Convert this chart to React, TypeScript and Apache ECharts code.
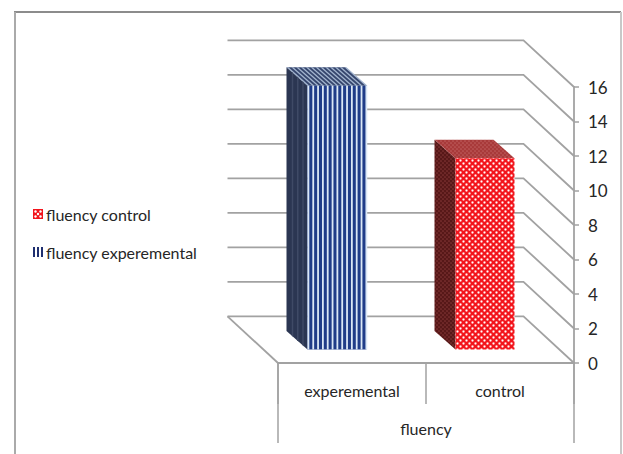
import React, { useEffect, useRef } from "react";
import * as echarts from "echarts";

const categories = ["experemental", "control"];
const groupLabel = ["fluency"];
const seriesExperemental = [[0, 15.3]];
const seriesControl = [[1, 11.1]];
const wallValues = [0, 2, 4, 6, 8, 10, 12, 14, 16];
const FONT = "Lato";
const LINE = "#a2a2a2";
const DX = 21, DY = 18.5;      // bar depth
const WX = 50.5, WY = 46.7;    // wall depth
const BX = 15, BY = 13.4;      // bar offset from the front of the floor
const BW = 59;

function tile(w: number, h: number, draw: (c: CanvasRenderingContext2D) => void) {
  const cv = document.createElement("canvas");
  cv.width = w; cv.height = h;
  const c = cv.getContext("2d")!;
  draw(c);
  return cv.toDataURL();
}
function dots(bg: string, halo: string, dot: string, s: number, r: number) {
  return tile(s, s, (c) => {
    c.fillStyle = bg; c.fillRect(0, 0, s, s);
    for (const [x, y] of [[s / 4, s / 4], [(3 * s) / 4, (3 * s) / 4]]) {
      c.fillStyle = halo; c.beginPath(); c.arc(x, y, r * 1.5, 0, 7); c.fill();
      c.fillStyle = dot; c.beginPath(); c.arc(x, y, r, 0, 7); c.fill();
    }
  });
}
const fillOf = (image: string, s: number) => ({ image, repeat: "repeat", imageWidth: s, imageHeight: s, x: 0, y: 0 });

export default function App() {
  const ref = useRef<HTMLDivElement>(null);
  useEffect(() => {
    const chart = echarts.init(ref.current!, null, { renderer: "svg" });
    const redFront = fillOf(dots("#f2141c", "#fb5a5f", "#ffffff", 6, 0.95), 6);
    const redSide = fillOf(dots("#571818", "#6c2626", "#8a4040", 4, 0.6), 4);
    const redTop = fillOf(dots("#a83a3a", "#b34848", "#c46a6a", 4, 0.6), 4);
    const iconRed = tile(10, 10, (c) => {
      c.fillStyle = "#f2141c"; c.fillRect(0, 0, 10, 10);
      c.fillStyle = "#fff";
      for (const [x, y] of [[2.5, 2.5], [7.5, 2.5], [5, 5], [2.5, 7.5], [7.5, 7.5]]) {
        c.beginPath(); c.arc(x, y, 1.2, 0, 7); c.fill();
      }
    });
    const iconBlue = tile(10, 10, (c) => {
      c.fillStyle = "#1f2f70";
      for (const x of [0, 4, 8]) c.fillRect(x, 0, 2, 10);
    });

    const wallItem = (params: any, api: any) => {
      const cs = params.coordSys;
      const v = api.value(1);
      const y = api.coord([0, v])[1];
      const x0 = cs.x, x1 = cs.x + cs.width;
      const style = { stroke: LINE, lineWidth: 1.8, fill: "none" };
      const children: any[] = [{
        type: "polyline",
        shape: { points: [[x0 - WX, y - WY], [x1 - WX, y - WY], [x1, y]] },
        style,
      }];
      if (v === 0) {
        children.push({ type: "line", shape: { x1: x0 - WX, y1: y - WY, x2: x0, y2: y }, style });
      }
      return { type: "group", children };
    };

    const box = (api: any) => {
      const [cx, top] = api.coord([api.value(0), api.value(1)]);
      const base = api.coord([api.value(0), 0])[1];
      const l = cx - BX - BW / 2;
      return { l, r: l + BW, t: top - BY, b: base - BY };
    };
    const poly = (points: number[][], fill: any) => ({ type: "polygon", shape: { points }, style: { fill } });

    const blueItem = (_: any, api: any) => {
      const { l, r, t, b } = box(api);
      const ch: any[] = [
        poly([[l, t], [l - DX, t - DY], [l - DX, b - DY], [l, b]], "#2b3652"),
        poly([[l, t], [r, t], [r - DX, t - DY], [l - DX, t - DY]], "#36466e"),
        poly([[l, t], [r, t], [r, b], [l, b]], "#1f3c88"),
      ];
      const period = 4.83;
      for (let x = l; x < r - 1; x += period) {
        ch.push(poly([[x, t], [x + 1.8, t], [x + 1.8, b], [x, b]], "#dbe8f6"));
        ch.push(poly([[x, t], [x + 2, t], [x + 2 - DX, t - DY], [x - DX, t - DY]], "#a3b5cf"));
      }
      for (let i = 1; i < 4; i++) {
        const s = i / 4;
        const x = l - DX * s;
        ch.push(poly([[x, t - DY * s], [x + 1.5, t - DY * s + 1.3], [x + 1.5, b - DY * s + 1.3], [x, b - DY * s]], "#3f4a66"));
      }
      return { type: "group", children: ch };
    };
    const redItem = (_: any, api: any) => {
      const { l, r, t, b } = box(api);
      return {
        type: "group",
        children: [
          poly([[l, t], [l - DX, t - DY], [l - DX, b - DY], [l, b]], redSide),
          poly([[l, t], [r, t], [r - DX, t - DY], [l - DX, t - DY]], redTop),
          poly([[l, t], [r, t], [r, b], [l, b]], redFront),
        ],
      };
    };

    const frame = (x1: number, y1: number, x2: number, y2: number, stroke: string) => ({
      type: "line", shape: { x1, y1, x2, y2 }, style: { stroke, lineWidth: 2 }, silent: true,
    });

    chart.setOption({
      animation: false,
      backgroundColor: "#ffffff",
      textStyle: { fontFamily: FONT },
      graphic: [
        frame(14, 12, 621, 12, "#8c8c8c"),
        frame(15, 12, 15, 454, "#aaaaaa"),
        frame(621, 12, 621, 454, "#c8c8c8"),
      ],
      legend: {
        orient: "vertical",
        left: 28,
        top: 201,
        itemWidth: 10,
        itemHeight: 10,
        itemGap: 22,
        textStyle: { fontFamily: FONT, fontSize: 16, color: "#262626", padding: [0, 0, 0, -2] },
        data: [
          { name: "fluency control", icon: "image://" + iconRed },
          { name: "fluency experemental", icon: "image://" + iconBlue },
        ],
      },
      grid: { left: 278, top: 87, width: 296, height: 276 },
      xAxis: [
        {
          type: "category",
          data: categories,
          position: "bottom",
          axisLine: { lineStyle: { color: LINE, width: 1.8 } },
          axisTick: { show: true, length: 41, lineStyle: { color: LINE, width: 1.5 } },
          axisLabel: { fontFamily: FONT, fontSize: 16, color: "#262626", margin: 19 },
        },
        {
          type: "category",
          data: groupLabel,
          position: "bottom",
          axisLine: { lineStyle: { color: LINE, width: 1.8 } },
          axisTick: { show: true, length: 80, lineStyle: { color: LINE, width: 1.5 } },
          axisLabel: { fontFamily: FONT, fontSize: 16, color: "#262626", margin: 57 },
        },
      ],
      yAxis: {
        type: "value",
        position: "right",
        min: 0,
        max: 16,
        interval: 2,
        axisLine: { show: true, lineStyle: { color: LINE, width: 1.8 } },
        axisTick: { show: true, length: 5, lineStyle: { color: LINE, width: 1.5 } },
        axisLabel: { fontFamily: FONT, fontSize: 17, color: "#262626", margin: 14 },
        splitLine: { show: false },
      },
      series: [
        { type: "custom", name: "walls", data: wallValues.map((v) => [0, v]), renderItem: wallItem, silent: true },
        { type: "custom", name: "fluency experemental", data: seriesExperemental, renderItem: blueItem, silent: true },
        { type: "custom", name: "fluency control", data: seriesControl, renderItem: redItem, silent: true },
      ],
    });
    return () => chart.dispose();
  }, []);
  return <div ref={ref} style={{ position: "fixed", left: 0, top: 0, width: 623, height: 454 }} />;
}
